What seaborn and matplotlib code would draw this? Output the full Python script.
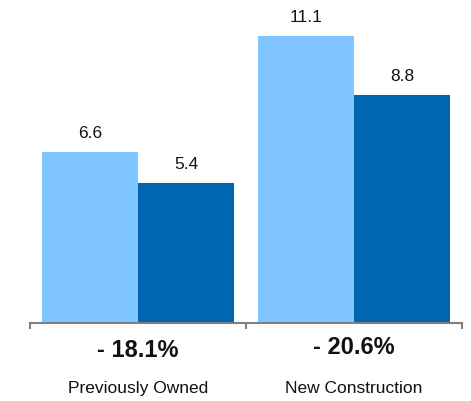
import pandas as pd
import matplotlib.pyplot as plt
import seaborn as sns

# values
categories = ["Previously Owned", "New Construction"]
periods = ["Period 1", "Period 2"]
period1 = [6.6, 11.1]
period2 = [5.4, 8.8]
changes = ["- 18.1%", "- 20.6%"]

df = pd.DataFrame({
    "category": categories * 2,
    "period": [periods[0]] * 2 + [periods[1]] * 2,
    "value": period1 + period2,
})

sns.set_style("white")
plt.rcParams["font.family"] = ["Liberation Sans", "DejaVu Sans"]

fig = plt.figure(figsize=(4.71, 4.01), dpi=100)
ax = fig.add_axes([0, 1 - 323 / 401, 1, 323 / 401])

sns.barplot(data=df, x="category", y="value", hue="period",
            order=categories, hue_order=periods,
            palette=["#7FC5FF", "#0066B2"], width=0.889,
            saturation=1, legend=False, ax=ax, linewidth=0)

ax.set_xlim(-0.5 - 30 / 432 * 2, 1.5 + 9 / 432 * 2)
ax.set_ylim(0, 12.49)

for c in ax.containers:
    ax.bar_label(c, fmt="%.1f", padding=8, fontsize=12.5, color="#111111")

# percentage change under each group
for i, txt in enumerate(changes):
    off = -19.5 if i == 0 else -17.3
    ax.annotate(txt, xy=(i, 0), xytext=(0, off), textcoords="offset points",
                ha="center", va="center", fontsize=17, fontweight="bold",
                color="#111111")

sns.despine(ax=ax, left=True, top=True, right=True)
ax.spines["bottom"].set_color("#808080")
ax.spines["bottom"].set_linewidth(1.5)
ax.spines["bottom"].set_bounds(-0.5, 1.5)
ax.set_yticks([])
ax.set_xticks([0, 1])
ax.set_xticklabels(categories, fontsize=12.5, color="#111111")
ax.tick_params(axis="x", which="major", length=0, pad=42)
ax.set_xticks([-0.5, 0.5, 1.5], minor=True)
ax.tick_params(axis="x", which="minor", bottom=True, length=4.5, width=1.5,
               color="#808080", direction="out")
ax.set_xlabel("")
ax.set_ylabel("")

fig.savefig("out.png", dpi=100)
